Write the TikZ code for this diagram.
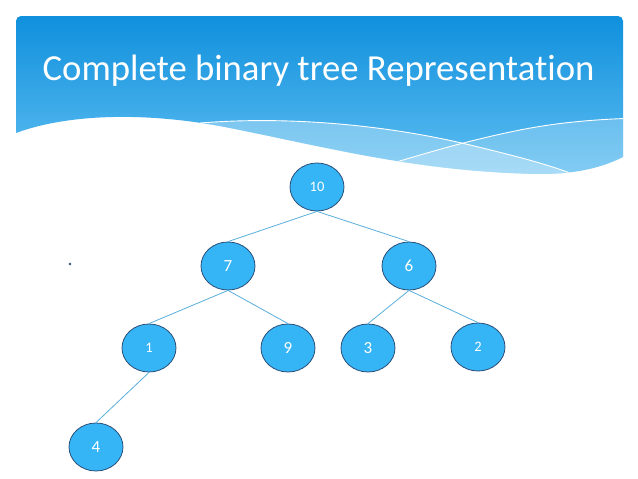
\documentclass[tikz,border=0pt]{standalone}
\usepackage{fontspec}
\setmainfont[Ligatures=NoCommon]{Carlito}
\usetikzlibrary{shapes.geometric}
\definecolor{hdtop}{HTML}{1090DD}
\definecolor{hdbot}{HTML}{5EBEF1}
\definecolor{nodefill}{HTML}{36B5F6}
\definecolor{nodeedge}{HTML}{2A4E78}
\definecolor{linkcol}{HTML}{5AAFDB}
\tikzset{
  treenode/.style={ellipse, draw=nodeedge, line width=0.8pt, fill=nodefill, text=white,
    minimum width=54pt, minimum height=48pt, inner sep=0pt, font=\fontsize{17}{17}\selectfont},
  smallnum/.style={font=\fontsize{14.5}{14.5}\selectfont},
  link/.style={draw=linkcol, line width=0.8pt},
  wavelinestyle/.style={draw=white, line width=0.9pt}
}
\begin{document}
\begin{tikzpicture}[x=1pt,y=-1pt]
\useasboundingbox (0,0) rectangle (638,479);
\fill[white] (0,0) rectangle (638,479);
% header
\def\headerpath{(16,133) .. controls (70,113) and (150,112) .. (230,128) .. controls (330,148) and (420,172) .. (540,174) .. controls (580,174) and (605,166) .. (623,157) -- (623,21) arc[start angle=0,end angle=-90,radius=5] -- (21,16) arc[start angle=-90,end angle=-180,radius=5] -- cycle}
\shade[top color=hdtop, bottom color=hdbot] \headerpath;
\begin{scope}
  \clip \headerpath;
  \fill[white, opacity=0.3] (200,123) .. controls (300,115) and (400,128) .. (470,145) .. controls (520,157) and (550,165) .. (578,176) -- (578,200) -- (200,200) -- cycle;
  \fill[white, opacity=0.22] (393,163) .. controls (430,152) and (470,140) .. (520,130) .. controls (560,122) and (600,119) .. (640,118) -- (640,200) -- (393,200) -- cycle;
  \draw[wavelinestyle] (200,123) .. controls (300,115) and (400,128) .. (470,145) .. controls (520,157) and (550,165) .. (578,176);
  \draw[wavelinestyle] (393,163) .. controls (430,152) and (470,140) .. (520,130) .. controls (560,122) and (600,119) .. (640,118);
\end{scope}
\node[text=white, font=\fontsize{36.7}{36.7}\selectfont, anchor=base] (title) at (318.5,80) {Complete binary tree Representation};
% dot
\fill[nodeedge] (70,264) circle[radius=1.3];
% nodes
\node[treenode, smallnum] (n10) at (317,187) {10};
\node[treenode] (n7) at (228,266) {7};
\node[treenode] (n6) at (409,266) {6};
\node[treenode, smallnum] (n1) at (149,348) {1};
\node[treenode] (n9) at (288,348) {9};
\node[treenode] (n3) at (368,348) {3};
\node[treenode, smallnum] (n2) at (478,347) {2};
\node[treenode] (n4) at (96,447) {4};
% edges
\path[link] (n10.south) -- (n7.north);
\path[link] (n10.south) -- (n6.north);
\path[link] (n7.south) -- (n1.north);
\path[link] (n7.south) -- (n9.north);
\path[link] (n6.south) -- (n3.north);
\path[link] (n6.south) -- (n2.north);
\path[link] (n1.south) -- (n4.north);
\end{tikzpicture}
\end{document}
